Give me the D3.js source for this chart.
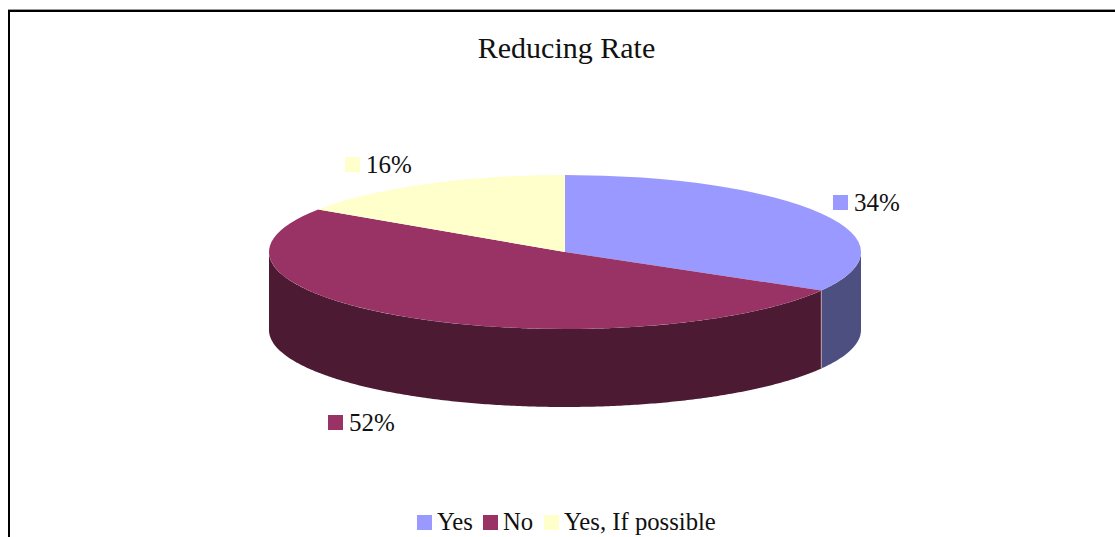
<!DOCTYPE html>
<html>
<head>
<meta charset="utf-8">
<script src="https://cdn.jsdelivr.net/npm/d3@7/dist/d3.min.js"></script>
<style>
html,body{margin:0;padding:0;background:#fff;overflow:hidden}
svg{display:block}
text{font-family:"Liberation Serif",serif;fill:#111}
</style>
</head>
<body>
<svg id="chart" width="1115" height="537"></svg>
<script>
const categories = ["Yes", "No", "Yes, If possible"];
const values = [34, 52, 16];
const labels = ["34%", "52%", "16%"];
const topColors = ["#9999ff", "#993366", "#ffffcc"];
const wallColors = ["#4d4f80", "#4d1a33", "#808066"];

const svg = d3.select("#chart");

// Chart frame, open at the bottom where the page cuts it off
svg.append("line")
  .attr("x1", 8).attr("x2", 1115).attr("y1", 9.5).attr("y2", 9.5)
  .attr("stroke", "#999").attr("stroke-width", 1);
svg.append("path")
  .attr("d", "M9,537V11H1115")
  .attr("fill", "none").attr("stroke", "#000").attr("stroke-width", 2);

svg.append("text").attr("x", 566.5).attr("y", 58)
  .attr("text-anchor", "middle").attr("font-size", 30).text("Reducing Rate");

// Disc geometry: tilted ellipse with a vertical wall below it
const cx = 565, cy = 252, rx = 296, ry = 77, depth = 78;
const pie = d3.pie().sort(null).value(d => d);
const arcs = pie(values);
const total = d3.sum(values);
const angle = d3.scaleLinear().domain([0, total]).range([0, 2 * Math.PI]);
const px = a => cx + rx * Math.sin(a);
const py = a => cy - ry * Math.cos(a);

const wall = d3.area()
  .x(a => px(a))
  .y0(a => py(a))
  .y1(a => py(a) + depth);

// Only the front half of the disc shows its wall
arcs.forEach((d, i) => {
  const a0 = Math.max(d.startAngle, Math.PI / 2);
  const a1 = Math.min(d.endAngle, 3 * Math.PI / 2);
  if (a1 <= a0) return;
  const samples = d3.range(a0, a1, 0.01).concat([a1]);
  svg.append("path").attr("d", wall(samples)).attr("fill", wallColors[i]);
});

// Thin highlight where the two visible walls meet
const seam = angle(values[0]);
svg.append("line")
  .attr("x1", px(seam)).attr("x2", px(seam))
  .attr("y1", py(seam)).attr("y2", py(seam) + depth)
  .attr("stroke", "#b9a0b0").attr("stroke-width", 1);

// Top face: a circular arc squashed into the ellipse
const arcGen = d3.arc().innerRadius(0).outerRadius(rx);
svg.append("g")
  .attr("transform", `translate(${cx},${cy}) scale(1,${ry / rx})`)
  .selectAll("path").data(arcs).join("path")
  .attr("d", arcGen)
  .attr("fill", (d, i) => topColors[i]);

// Data labels with their colour keys
const labelX = [833, 328, 345];
const labelY = [195, 415, 157];
labels.forEach((t, i) => {
  svg.append("rect").attr("x", labelX[i]).attr("y", labelY[i])
    .attr("width", 15).attr("height", 15).attr("fill", topColors[i]);
  svg.append("text").attr("x", labelX[i] + 21).attr("y", labelY[i] + 15.5)
    .attr("font-size", 25).text(t);
});

// Legend
const legendX = [417, 483, 544];
categories.forEach((t, i) => {
  svg.append("rect").attr("x", legendX[i]).attr("y", 515)
    .attr("width", 15).attr("height", 15).attr("fill", topColors[i]);
  svg.append("text").attr("x", legendX[i] + 20).attr("y", 530)
    .attr("font-size", 24.7).text(t);
});
</script>
</body>
</html>
